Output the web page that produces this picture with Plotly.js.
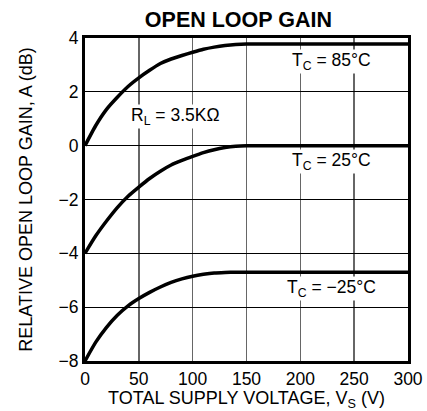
<!DOCTYPE html>
<html>
<head>
<meta charset="utf-8">
<script src="https://cdn.plot.ly/plotly-3.0.1.min.js"></script>
<style>html,body{margin:0;padding:0;background:#fff;}#chart{width:427px;height:411px;}</style>
</head>
<body>
<div id="chart"></div>
<script>
// Total supply voltage Vs (V)
const voltage = [0, 10, 20, 30, 40, 50, 60, 70, 80, 90, 100, 110, 120, 130, 140, 150, 300];
// Relative open loop gain (dB)
const gain85 = [0, 0.75, 1.35, 1.8, 2.2, 2.52, 2.8, 3.05, 3.22, 3.35, 3.47, 3.58, 3.66, 3.72, 3.76, 3.78, 3.78];
const gain25 = [-4, -3.35, -2.8, -2.3, -1.88, -1.54, -1.22, -0.95, -0.72, -0.55, -0.4, -0.26, -0.15, -0.07, -0.02, 0, 0];
const gainM25 = [-8, -7.3, -6.75, -6.3, -5.95, -5.68, -5.45, -5.25, -5.08, -4.95, -4.85, -4.78, -4.73, -4.71, -4.7, -4.7, -4.7];
const xTicks = [0, 50, 100, 150, 200, 250, 300];
const yTicks = [-8, -6, -4, -2, 0, 2, 4];
const yTickText = ['\u22128', '\u22126', '\u22124', '\u22122', '0', '2', '4'];

const line = {color: '#000', width: 3.5, shape: 'spline', smoothing: 0.6};
const traces = [gain85, gain25, gainM25].map(g => ({
  x: voltage, y: g, type: 'scatter', mode: 'lines', line: line, hoverinfo: 'none'
}));

const fam = 'Liberation Sans, Arial, sans-serif';
const tickFont = {family: fam, size: 17.5, color: '#000'};
const axFont = {family: fam, size: 18, color: '#000'};
const annFont = {family: fam, size: 17.5, color: '#000'};
const ann = (x, y, text) => ({x: x, y: y, xref: 'x', yref: 'y', text: text, showarrow: false,
  bgcolor: '#fff', borderpad: 0, font: annFont, xanchor: 'center', yanchor: 'middle'});

const layout = {
  width: 427, height: 411,
  margin: {l: 84.5, r: 19.3, t: 38.3, b: 50},
  paper_bgcolor: '#fff', plot_bgcolor: '#fff',
  showlegend: false,
  font: tickFont,
  title: {text: '<b>OPEN LOOP GAIN</b>', font: {family: fam, size: 21.5, color: '#000'},
    x: 0.475, xref: 'paper', xanchor: 'center', y: 0.953, yref: 'container', yanchor: 'middle'},
  xaxis: {range: [0, 300], tickvals: xTicks, ticktext: xTicks.map(String), showgrid: true, gridcolor: '#666', gridwidth: 1.5,
    zeroline: false, showline: true, linecolor: '#000', linewidth: 3, mirror: true, ticks: '', ticklen: 0,
    tickfont: tickFont, title: {text: 'TOTAL SUPPLY VOLTAGE, V<sub>S</sub> (V)', font: axFont, standoff: 6}},
  yaxis: {range: [-8, 4], tickvals: yTicks, ticktext: yTickText, showgrid: true, gridcolor: '#000', gridwidth: 1,
    zeroline: false, showline: true, linecolor: '#000', linewidth: 3, mirror: true, ticks: '', ticklen: 0,
    tickfont: tickFont, title: {text: 'RELATIVE OPEN LOOP GAIN, A (dB)', font: axFont, standoff: 22}},
  annotations: [
    ann(229, 3.13, 'T<sub>C</sub> = 85°C'),
    ann(229, -0.59, 'T<sub>C</sub> = 25°C'),
    ann(229.4, -5.29, 'T<sub>C</sub> = \u221225°C'),
    ann(84, 1.09, 'R<sub>L</sub> = 3.5KΩ')
  ]
};
Plotly.newPlot('chart', traces, layout, {staticPlot: true, displayModeBar: false});
</script>
</body>
</html>
